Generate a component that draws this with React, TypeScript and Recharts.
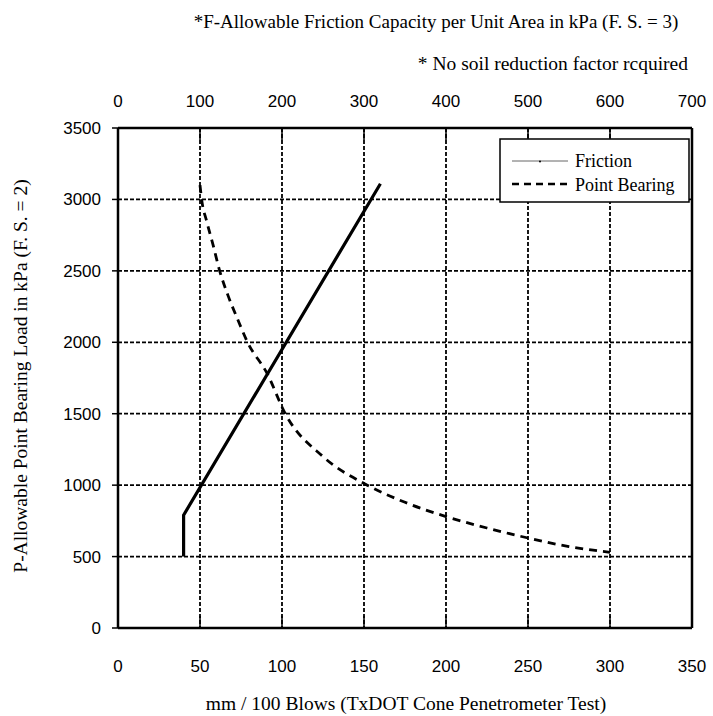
import { CartesianGrid, Line, LineChart, ReferenceLine, XAxis, YAxis } from 'recharts';

// bottom axis: mm / 100 blows, top axis: friction capacity (kPa), left: point bearing load (kPa)
const blowTicks = [0, 50, 100, 150, 200, 250, 300, 350];
const frictionTicks = [0, 100, 200, 300, 400, 500, 600, 700];
const loadTicks = [0, 500, 1000, 1500, 2000, 2500, 3000, 3500];

// friction curve, read against the top (kPa) axis
const frictionKpa = [80, 80, 320];
const frictionLoad = [500, 790, 3110];

// point bearing curve, read against the bottom (mm / 100 blows) axis
const bearingBlows = [50, 51, 54, 58, 62, 67, 73, 79, 91, 102, 125, 152, 175, 200, 225, 250, 275, 300];
const bearingLoad = [3100, 3000, 2850, 2680, 2500, 2330, 2160, 2000, 1780, 1500, 1200, 1000, 880, 780, 700, 630, 570, 530];

const frictionData = frictionKpa.map((x, i) => ({ x, y: frictionLoad[i] }));
const bearingData = bearingBlows.map((x, i) => ({ x, y: bearingLoad[i] }));

const W = 713;
const H = 716;
const PLOT_TOP = 128;
const PLOT_BOTTOM = 628;
const PLOT_LEFT = 118;
const PLOT_RIGHT = 692;

const SANS = '"Liberation Sans", Arial, sans-serif';
const SERIF = '"Liberation Serif", "Times New Roman", serif';

function BottomTick(props: any) {
  const { x, y, payload } = props;
  return (
    <g>
      <line x1={x} x2={x} y1={y} y2={y - 12} stroke="#000" strokeWidth={1.5} />
      <text x={x} y={y + 44} textAnchor="middle" fontFamily={SANS} fontSize={17} fill="#000">
        {payload.value}
      </text>
    </g>
  );
}

function TopTick(props: any) {
  const { x, y, payload } = props;
  return (
    <g>
      <line x1={x} x2={x} y1={y} y2={y + 12} stroke="#000" strokeWidth={1.5} />
      <text x={x} y={y - 21} textAnchor="middle" fontFamily={SANS} fontSize={17} fill="#000">
        {payload.value}
      </text>
    </g>
  );
}

function Labels() {
  return (
    <svg
      width={W}
      height={H}
      style={{ position: 'absolute', left: 0, top: 0, pointerEvents: 'none' }}
    >
      <text x={436} y={28} textAnchor="middle" fontFamily={SERIF} fontSize={19} fill="#000">
        *F-Allowable Friction Capacity per Unit Area in kPa (F. S. = 3)
      </text>
      <text x={688} y={70} textAnchor="end" fontFamily={SERIF} fontSize={19.5} fill="#000">
        * No soil reduction factor rcquired
      </text>
      <text
        x={0}
        y={0}
        transform="translate(27, 376) rotate(-90)"
        textAnchor="middle"
        fontFamily={SERIF}
        fontSize={19.5}
        fill="#000"
      >
        P-Allowable Point Bearing Load in kPa (F. S. = 2)
      </text>
      <text x={406} y={710} textAnchor="middle" fontFamily={SERIF} fontSize={19.5} fill="#000">
        mm / 100 Blows (TxDOT Cone Penetrometer Test)
      </text>

      {/* legend box */}
      <rect x={500} y={139} width={189} height={63} fill="#fff" stroke="#000" strokeWidth={1.5} />
      <line x1={512} x2={568} y1={161} y2={161} stroke="#666" strokeWidth={1} />
      <circle cx={540} cy={161.5} r={1} fill="#000" />
      <text x={575} y={167} fontFamily={SERIF} fontSize={18} fill="#000">
        Friction
      </text>
      <line x1={512} x2={568} y1={184} y2={184} stroke="#000" strokeWidth={2.5} strokeDasharray="7 5" />
      <text x={575} y={191} fontFamily={SERIF} fontSize={18} fill="#000">
        Point Bearing
      </text>
    </svg>
  );
}

export default function App() {
  return (
    <div style={{ position: 'absolute', left: 0, top: 0, width: W, height: H, background: '#fff' }}>
      <LineChart
        width={W}
        height={H}
        margin={{ top: 0, right: W - PLOT_RIGHT, bottom: 0, left: 0 }}
      >
        <CartesianGrid stroke="#000" strokeWidth={1.8} strokeDasharray="4 2" />
        <XAxis
          dataKey="x"
          type="number"
          domain={[0, 350]}
          ticks={blowTicks}
          height={H - PLOT_BOTTOM}
          axisLine={{ stroke: '#000', strokeWidth: 2.5 }}
          tickLine={false}
          tickSize={0}
          tickMargin={0}
          tick={<BottomTick />}
          allowDataOverflow
        />
        <XAxis
          xAxisId="top"
          dataKey="x"
          orientation="top"
          type="number"
          domain={[0, 700]}
          ticks={frictionTicks}
          height={PLOT_TOP}
          axisLine={{ stroke: '#000', strokeWidth: 2.5 }}
          tickLine={false}
          tickSize={0}
          tickMargin={0}
          tick={<TopTick />}
          allowDataOverflow
        />
        <YAxis
          dataKey="y"
          type="number"
          domain={[0, 3500]}
          ticks={loadTicks}
          width={PLOT_LEFT}
          axisLine={{ stroke: '#000', strokeWidth: 2.5 }}
          tickLine={{ stroke: '#000', strokeWidth: 1.5 }}
          tickSize={6}
          tickMargin={11}
          tick={{ fill: '#000', fontSize: 17, fontFamily: SANS }}
          allowDataOverflow
        />
        <ReferenceLine x={350} stroke="#000" strokeWidth={2.5} ifOverflow="visible" />
        <Line
          xAxisId="top"
          data={frictionData}
          dataKey="y"
          type="linear"
          stroke="#000"
          strokeWidth={3.2}
          dot={false}
          isAnimationActive={false}
        />
        <Line
          data={bearingData}
          dataKey="y"
          type="monotone"
          stroke="#000"
          strokeWidth={2.8}
          strokeDasharray="8 6"
          dot={false}
          isAnimationActive={false}
        />
      </LineChart>
      <Labels />
    </div>
  );
}
